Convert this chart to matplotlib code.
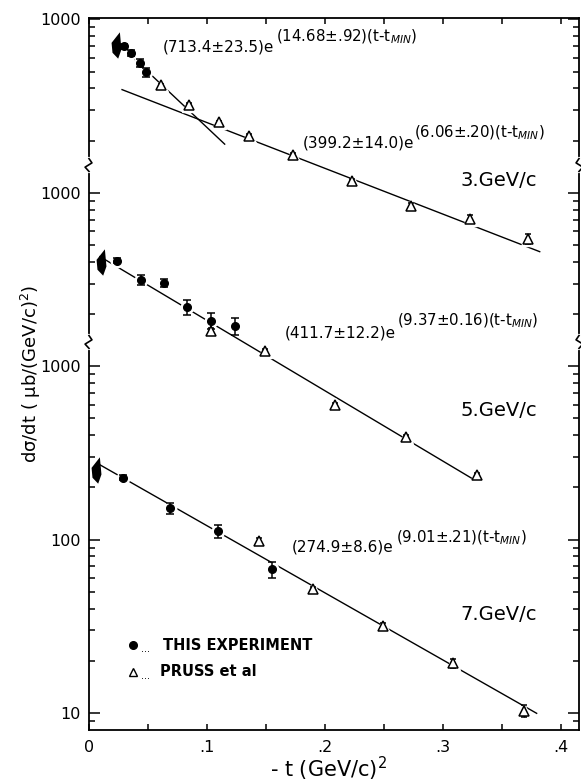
"""
Differential cross section vs -t at 3, 5 and 7 GeV/c.
Panels share one log axis; each momentum is lifted by a decade so the
three sets stack (3 GeV x100, 5 GeV x10, 7 GeV x1), with axis breaks between.
"""

import matplotlib.pyplot as plt
from matplotlib.path import Path
from matplotlib.lines import Line2D
from matplotlib.ticker import FixedLocator, FixedFormatter

plt.rcParams.update({
    "font.family": "DejaVu Sans",
    "mathtext.fontset": "dejavusans",
    "mathtext.default": "regular",
})

# decade shift applied to each momentum so the panels stack
SHIFT_3, SHIFT_5, SHIFT_7 = 100, 10, 1

# ---- 3 GeV/c ----
t3_exp = [0.030, 0.036, 0.043, 0.048]
s3_exp = [700, 640, 563, 495]
e3_exp = [25, 25, 30, 28]
t3_pru = [0.061, 0.085, 0.110, 0.136, 0.173, 0.223, 0.273, 0.323, 0.372]
s3_pru = [418, 323, 255, 213, 165, 117, 84.5, 71, 54.4]
e3_pru = [8, 7, 6, 5, 4, 3, 2.5, 3.5, 3.5]
t3_fit_steep = [0.027, 0.115]
s3_fit_steep = [700, 191]
t3_fit_flat = [0.028, 0.382]
s3_fit_flat = [394, 45.8]

# ---- 5 GeV/c ----
t5_exp = [0.0235, 0.0438, 0.0636, 0.0833, 0.103, 0.124]
s5_exp = [407, 315, 301, 219, 183, 170]
e5_exp = [14, 20, 16, 21, 20, 19]
t5_pru = [0.103, 0.149, 0.2085, 0.2686, 0.3286]
s5_pru = [159, 123, 59.7, 39.1, 23.5]
e5_pru = [7, 3, 1.5, 1.2, 0.8]
t5_fit = [0.0093, 0.3243]
s5_fit = [429, 22.6]

# ---- 7 GeV/c ----
t7_exp = [0.0286, 0.0686, 0.1096, 0.1548]
s7_exp = [228, 152, 112, 67.3]
e7_exp = [8, 11, 10, 7]
t7_pru = [0.1443, 0.1896, 0.2494, 0.3082, 0.3689]
s7_pru = [97.8, 52.1, 31.6, 19.3, 10.3]
e7_pru = [5, 1.5, 1.5, 1.2, 0.8]
t7_fit = [0.0093, 0.3794]
s7_fit = [270, 9.96]

# forward (t_min) markers, one per momentum
fwd_t = [0.0237, 0.0110, 0.0068]
fwd_s = [709, 401, 252]

# ---- fit labels ----
fit_main = ["(713.4±23.5)e", "(399.2±14.0)e", "(411.7±12.2)e", "(274.9±8.6)e"]
fit_exp = [r"(14.68±.92)(t-t$_{\mathit{MIN}}$)",
           r"(6.06±.20)(t-t$_{\mathit{MIN}}$)",
           r"(9.37±0.16)(t-t$_{\mathit{MIN}}$)",
           r"(9.01±.21)(t-t$_{\mathit{MIN}}$)"]
momenta = ["3.GeV/c", "5.GeV/c", "7.GeV/c"]

W, H = 581, 782


def fx(px):
    return px / W


def fy(py):
    return 1 - py / H


def scaled(vals, k):
    return [v * k for v in vals]


fig = plt.figure(figsize=(W / 100, H / 100), dpi=100)
ax = fig.add_axes([89 / W, 52 / H, 490 / W, 712 / H])
ax.set_yscale("log")
ax.set_xlim(0, 0.4153)
ax.set_ylim(7.98, 1.02e5)

# shaded forward wedge marker
wedge = Path([(0.18, 1.0), (-0.45, 0.2), (-0.38, -0.55), (0.05, -1.0),
              (0.3, -0.3), (0.18, 1.0)],
             [Path.MOVETO] + [Path.LINETO] * 4 + [Path.CLOSEPOLY])

sets = [
    (SHIFT_3, t3_exp, s3_exp, e3_exp, t3_pru, s3_pru, e3_pru,
     [(t3_fit_steep, s3_fit_steep), (t3_fit_flat, s3_fit_flat)]),
    (SHIFT_5, t5_exp, s5_exp, e5_exp, t5_pru, s5_pru, e5_pru, [(t5_fit, s5_fit)]),
    (SHIFT_7, t7_exp, s7_exp, e7_exp, t7_pru, s7_pru, e7_pru, [(t7_fit, s7_fit)]),
]

for k, te, se, ee, tp, sp, ep, fits in sets:
    for tf, sf in fits:
        ax.plot(tf, scaled(sf, k), color="k", lw=1.0, zorder=2)
    # white halos so the fit line breaks around the points
    ax.plot(te, scaled(se, k), "o", ms=9, color="white", zorder=2.5)
    ax.plot(tp, scaled(sp, k), "^", ms=10, color="white", zorder=2.5)
    ax.errorbar(te, scaled(se, k), yerr=scaled(ee, k), fmt="o", ms=5.5,
                mfc="k", mec="k", ecolor="k", elinewidth=1.1, capsize=2.8,
                capthick=1.1, zorder=3)
    ax.errorbar(tp, scaled(sp, k), yerr=scaled(ep, k), fmt="^", ms=6.5,
                mfc="white", mec="k", mew=1.1, ecolor="k", elinewidth=1.0,
                capsize=2.5, capthick=1.0, zorder=3)

for t, s, k in zip(fwd_t, fwd_s, [SHIFT_3, SHIFT_5, SHIFT_7]):
    ax.plot([t], [s * k], marker=wedge, ms=19, color="k", mew=0, zorder=3)

# ---- axes, ticks ----
for sp in ax.spines.values():
    sp.set_linewidth(1.3)

major = [10, 100, 1000, 1e4, 1e5]
minor = ([9] + [d * m for d in (10, 100) for m in range(2, 10)]
         + [2000 * m / 2 for m in range(2, 10)]
         + [20000 * m / 2 for m in range(2, 10)])
ax.yaxis.set_major_locator(FixedLocator(major))
ax.yaxis.set_major_formatter(FixedFormatter(["10", "100", "1000", "1000", "1000"]))
ax.yaxis.set_minor_locator(FixedLocator(minor))
ax.yaxis.set_minor_formatter(FixedFormatter([""] * len(minor)))

ax.xaxis.set_major_locator(FixedLocator([0, 0.1, 0.2, 0.3, 0.4]))
ax.xaxis.set_major_formatter(FixedFormatter(["0", ".1", ".2", ".3", ".4"]))
ax.xaxis.set_minor_locator(FixedLocator([0.05, 0.15, 0.25, 0.35]))

ax.tick_params(which="both", direction="in", top=True, right=True, width=1.1)
ax.tick_params(axis="y", which="major", length=8, labelsize=11.5, pad=6)
ax.tick_params(axis="y", which="minor", length=4.5)
ax.tick_params(axis="x", which="both", length=4.5, labelsize=11.5, pad=7)

# axis breaks on both vertical spines
for yb in (0.7935, 0.545):
    for xb, sgn in ((0.0, 1), (1.0, -1)):
        ax.plot([xb, xb], [yb - 0.009, yb + 0.009], color="white", lw=3,
                transform=ax.transAxes, clip_on=False, zorder=5)
        ax.plot([xb, xb + sgn * 0.006, xb - sgn * 0.008, xb],
                [yb + 0.009, yb + 0.003, yb - 0.003, yb - 0.009],
                color="k", lw=1.2, transform=ax.transAxes, clip_on=False, zorder=6)

# ---- fit annotations ----
main_pos = [(163, 47), (303, 143), (285, 333), (292, 547)]
exp_pos = [(276, 37), (414, 133), (397, 321), (396, 538)]
for txt, (x, y) in zip(fit_main, main_pos):
    fig.text(fx(x), fy(y), txt, fontsize=11, ha="left", va="center")
for txt, (x, y) in zip(fit_exp, exp_pos):
    fig.text(fx(x), fy(y), txt, fontsize=10.8, ha="left", va="center")

for txt, y in zip(momenta, [181, 410, 614]):
    fig.text(fx(537), fy(y), txt, fontsize=14, ha="right", va="center")

# ---- legend ----
fig.add_artist(Line2D([fx(133)], [fy(645)], marker="o", ms=5.5, color="k",
                      transform=fig.transFigure))
fig.add_artist(Line2D([fx(133)], [fy(672)], marker="^", ms=6, mfc="white",
                      mec="k", mew=1.0, color="k", transform=fig.transFigure))
fig.text(fx(141), fy(649), "...", fontsize=7, ha="left", va="center")
fig.text(fx(141), fy(676), "...", fontsize=7, ha="left", va="center")
fig.text(fx(163), fy(645), "THIS EXPERIMENT", fontsize=10.5, fontweight="bold",
         ha="left", va="center")
fig.text(fx(160), fy(672), "PRUSS et al", fontsize=10.5, fontweight="bold",
         ha="left", va="center")

# ---- axis labels ----
fig.text(fx(31), fy(374), r"d$\sigma$/dt ( $\mu$b/(GeV/c)$^2$)", fontsize=13,
         rotation=90, ha="center", va="center")
fig.text(fx(329), fy(769), "- t (GeV/c)$^2$", fontsize=15, ha="center",
         va="center")

fig.savefig("out.png", dpi=100)
